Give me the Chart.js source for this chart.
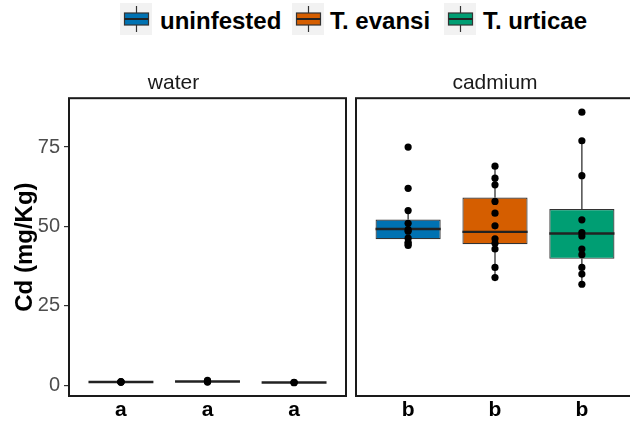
<!DOCTYPE html>
<html><head><meta charset="utf-8">
<script src="https://cdn.jsdelivr.net/npm/chart.js@4/dist/chart.umd.min.js"></script>
<style>
html,body{margin:0;padding:0;width:630px;height:422px;overflow:hidden;background:#fff;font-family:"Liberation Sans",Arial,sans-serif;}
.key{position:absolute;top:3px;width:32px;height:32px;}
.lab{position:absolute;top:9px;line-height:24px;font-size:24px;font-weight:bold;color:#000;white-space:nowrap;}
#w1{position:absolute;left:0;top:0;width:350px;height:422px;}
#w2{position:absolute;left:350px;top:0;width:290px;height:422px;}
</style></head>
<body>
<div id="legend"></div>
<div id="w1"><canvas id="c1" width="350" height="422"></canvas></div>
<div id="w2"><canvas id="c2" width="290" height="422"></canvas></div>
<script>
// ---- data ----
const groups = ['uninfested', 'T. evansi', 'T. urticae'];
const groupColors = ['#0072B2', '#D55E00', '#009E73'];
const panels = ['water', 'cadmium'];
const yTicks = [0, 25, 50, 75];
const waterLetters = ['a', 'a', 'a'];
const cadmiumLetters = ['b', 'b', 'b'];

// water box statistics (per group)
const waterLow = [0.9, 1.0, 0.8];
const waterQ1 = [0.95, 1.05, 0.82];
const waterMedian = [1.0, 1.15, 0.85];
const waterQ3 = [1.05, 1.3, 0.88];
const waterHigh = [1.1, 1.5, 0.9];
// water observations
const waterUninfested = [0.9, 1.0, 1.05, 1.1];
const waterEvansi = [1.0, 1.15, 1.3, 1.5];
const waterUrticae = [0.8, 0.85, 0.9];

// cadmium box statistics (per group)
const cdLow = [44, 33.9, 31.8];
const cdQ1 = [46, 44.4, 39.8];
const cdMedian = [49.2, 48.3, 47.8];
const cdQ3 = [52.2, 59.1, 55.5];
const cdHigh = [55, 69, 77];
// cadmium observations
const cdUninfested = [75, 62, 55, 51, 49, 48.5, 46.3, 45, 44.5, 44];
const cdEvansi = [69, 65.2, 63.1, 57.9, 54.2, 50.2, 46.1, 44.7, 42.9, 37.1, 33.9];
const cdUrticae = [86, 77, 66, 52.1, 48.1, 47, 42.9, 41.1, 37.1, 35, 31.8];

// ---- legend (HTML) ----
const legendPos = [[120, 160], [292, 330], [444, 483]];
const lg = document.getElementById('legend');
groups.forEach((g, i) => {
  const k = document.createElement('div');
  k.className = 'key'; k.style.left = legendPos[i][0] + 'px';
  k.innerHTML = '<svg width="32" height="32"><rect x="0" y="0" width="32" height="32" fill="#F2F2F2"/>' +
    '<line x1="16.5" y1="3" x2="16.5" y2="29" stroke="#333" stroke-width="1.2"/>' +
    '<rect x="4.5" y="10" width="24" height="12" fill="' + groupColors[i] + '" stroke="#333" stroke-width="1.2"/>' +
    '<line x1="4.5" y1="16" x2="28.5" y2="16" stroke="#222" stroke-width="2"/></svg>';
  lg.appendChild(k);
  const s = document.createElement('div');
  s.className = 'lab'; s.style.left = legendPos[i][1] + 'px'; s.textContent = g;
  lg.appendChild(s);
});

Chart.defaults.font.family = "'Liberation Sans', Arial, sans-serif";

const boxPlugin = {
  id: 'boxplot',
  beforeDatasetDraw(chart, args, opts) {
    if (args.meta.type !== 'bar') return;
    const y = chart.scales.y, ctx = chart.ctx;
    ctx.save(); ctx.strokeStyle = '#333'; ctx.lineWidth = 1.3;
    args.meta.data.forEach((bar, i) => {
      ctx.beginPath();
      ctx.moveTo(bar.x, y.getPixelForValue(opts.high[i]));
      ctx.lineTo(bar.x, y.getPixelForValue(opts.q3[i]));
      ctx.moveTo(bar.x, y.getPixelForValue(opts.q1[i]));
      ctx.lineTo(bar.x, y.getPixelForValue(opts.low[i]));
      ctx.stroke();
    });
    ctx.restore();
  },
  afterDatasetDraw(chart, args, opts) {
    if (args.meta.type !== 'bar') return;
    const y = chart.scales.y, ctx = chart.ctx;
    ctx.save(); ctx.strokeStyle = '#222'; ctx.lineWidth = 2.4;
    args.meta.data.forEach((bar, i) => {
      const py = y.getPixelForValue(opts.med[i]);
      ctx.beginPath();
      ctx.moveTo(bar.x - bar.width / 2, py);
      ctx.lineTo(bar.x + bar.width / 2, py);
      ctx.stroke();
    });
    ctx.restore();
  },
  afterDraw(chart) {
    const a = chart.chartArea, ctx = chart.ctx;
    ctx.save(); ctx.strokeStyle = '#1a1a1a'; ctx.lineWidth = 2;
    ctx.strokeRect(a.left, a.top, a.right - a.left, a.bottom - a.top);
    ctx.restore();
  }
};

function makeChart(id, title, low, q1, med, q3, high, obs, letters, showY, pad) {
  const boxData = groups.map((g, i) => ({ x: i + 1, y: [q1[i], q3[i]] }));
  const pointData = [];
  obs.forEach((arr, i) => arr.forEach(v => pointData.push({ x: i + 1, y: v })));
  return new Chart(document.getElementById(id), {
    type: 'bar',
    data: {
      datasets: [
        { type: 'bar', data: boxData, backgroundColor: groupColors, borderColor: '#333',
          borderWidth: 1.2, borderSkipped: false, barPercentage: 0.75, categoryPercentage: 1, order: 1 },
        { type: 'scatter', data: pointData, pointRadius: 3.6, pointBackgroundColor: '#000',
          pointBorderWidth: 0, showLine: false, order: 0 }
      ]
    },
    options: {
      responsive: false, animation: false, events: [],
      layout: { padding: pad },
      plugins: {
        legend: { display: false }, tooltip: { enabled: false },
        title: { display: true, text: title, color: '#1a1a1a', font: { size: 21, weight: 'normal' },
          padding: { top: 11, bottom: 2 } },
        boxplot: { low: low, q1: q1, med: med, q3: q3, high: high }
      },
      scales: {
        x: {
          type: 'linear', min: 0.4, max: 3.6, offset: false,
          afterBuildTicks: s => { s.ticks = [1, 2, 3].map(v => ({ value: v })); },
          afterFit: s => { s.height = 26; s.paddingLeft = 0; s.paddingRight = 0; },
          grid: { display: false, drawTicks: false, offset: false }, border: { display: false },
          ticks: { padding: 2, color: '#000', autoSkip: false, maxRotation: 0,
            font: { size: 21, weight: 'bold' }, callback: (v, i) => letters[i] }
        },
        y: {
          type: 'linear', min: -3.4, max: 90.4, display: showY,
          afterBuildTicks: s => { s.ticks = yTicks.map(v => ({ value: v })); },
          afterFit: s => { if (showY) s.width = 69; },
          grid: { drawOnChartArea: false, drawTicks: true, tickLength: 5, color: '#333', lineWidth: 1.2 },
          border: { display: false },
          ticks: { padding: 4, color: '#4d4d4d', font: { size: 20 } },
          title: { display: showY, text: 'Cd (mg/Kg)', color: '#000', font: { size: 24, weight: 'bold' },
            padding: { top: 11, bottom: 0 } }
        }
      }
    },
    plugins: [boxPlugin]
  });
}

makeChart('c1', panels[0], waterLow, waterQ1, waterMedian, waterQ3, waterHigh,
  [waterUninfested, waterEvansi, waterUrticae], waterLetters, true, { left: 0, right: 3, top: 60, bottom: 0 });
makeChart('c2', panels[1], cdLow, cdQ1, cdMedian, cdQ3, cdHigh,
  [cdUninfested, cdEvansi, cdUrticae], cadmiumLetters, false, { left: 6, right: 6, top: 60, bottom: 0 });
</script>
</body></html>
